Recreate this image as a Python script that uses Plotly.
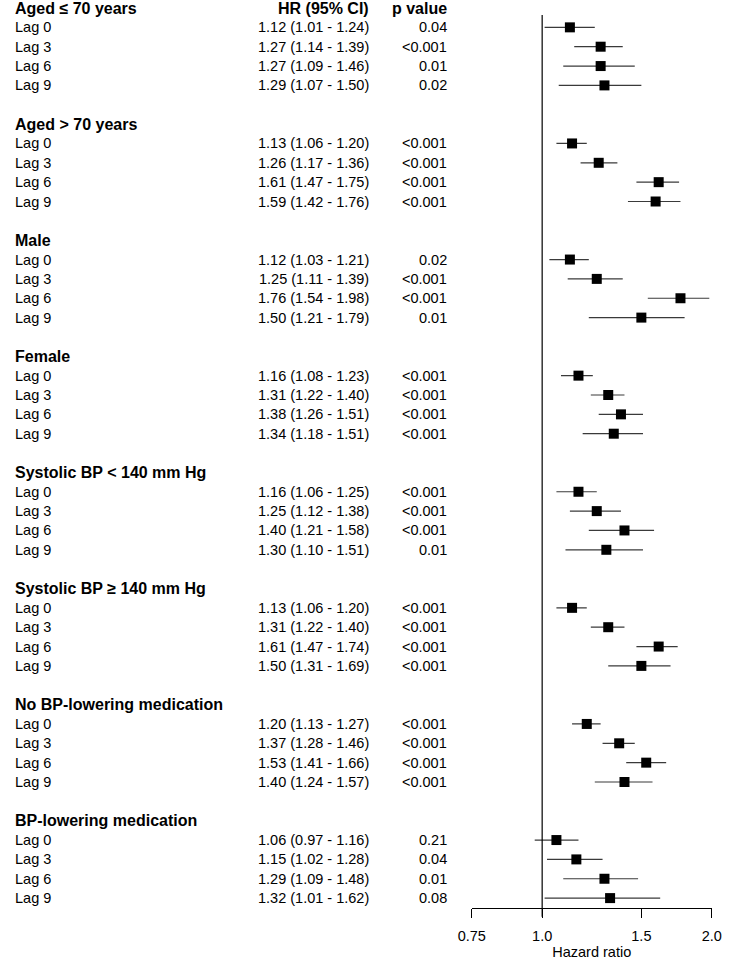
import plotly.graph_objects as go
import math

# ---------------- data ----------------
groups = [
    "Aged ≤ 70 years",
    "Aged > 70 years",
    "Male",
    "Female",
    "Systolic BP < 140 mm Hg",
    "Systolic BP ≥ 140 mm Hg",
    "No BP-lowering medication",
    "BP-lowering medication",
]
lags = ["Lag 0", "Lag 3", "Lag 6", "Lag 9"]

hr = [
    [1.12, 1.27, 1.27, 1.29],
    [1.13, 1.26, 1.61, 1.59],
    [1.12, 1.25, 1.76, 1.50],
    [1.16, 1.31, 1.38, 1.34],
    [1.16, 1.25, 1.40, 1.30],
    [1.13, 1.31, 1.61, 1.50],
    [1.20, 1.37, 1.53, 1.40],
    [1.06, 1.15, 1.29, 1.32],
]
ci_low = [
    [1.01, 1.14, 1.09, 1.07],
    [1.06, 1.17, 1.47, 1.42],
    [1.03, 1.11, 1.54, 1.21],
    [1.08, 1.22, 1.26, 1.18],
    [1.06, 1.12, 1.21, 1.10],
    [1.06, 1.22, 1.47, 1.31],
    [1.13, 1.28, 1.41, 1.24],
    [0.97, 1.02, 1.09, 1.01],
]
ci_high = [
    [1.24, 1.39, 1.46, 1.50],
    [1.20, 1.36, 1.75, 1.76],
    [1.21, 1.39, 1.98, 1.79],
    [1.23, 1.40, 1.51, 1.51],
    [1.25, 1.38, 1.58, 1.51],
    [1.20, 1.40, 1.74, 1.69],
    [1.27, 1.46, 1.66, 1.57],
    [1.16, 1.28, 1.48, 1.62],
]
p_values = [
    ["0.04", "<0.001", "0.01", "0.02"],
    ["<0.001", "<0.001", "<0.001", "<0.001"],
    ["0.02", "<0.001", "<0.001", "0.01"],
    ["<0.001", "<0.001", "<0.001", "<0.001"],
    ["<0.001", "<0.001", "<0.001", "0.01"],
    ["<0.001", "<0.001", "<0.001", "<0.001"],
    ["<0.001", "<0.001", "<0.001", "<0.001"],
    ["0.21", "0.04", "0.01", "0.08"],
]
x_ticks = [0.75, 1.0, 1.5, 2.0]
x_tick_labels = ["0.75", "1.0", "1.5", "2.0"]
col_headers = ["HR (95% CI)", "p value"]
x_title = "Hazard ratio"

# ---------------- layout constants ----------------
W, H = 732, 960
FONT = "Liberation Sans"
FS = 14.5
FS_HEAD = 16
ROW_PX = 19.35
TOP_PX = 8.0          # centre of first row
AXIS_PX = 908.3       # x-axis line
X_LEFT_PX, X_RIGHT_PX = 473.3, 721.4
LABEL_X = 1
HR_X = 367
P_X = 448

def px_to_row(p):
    return (p - TOP_PX) / ROW_PX

fig = go.Figure()

ci_x, ci_y, pt_x, pt_y = [], [], [], []
annotations = []

def ann(text, xpx, row, anchor, bold=False):
    annotations.append(dict(
        text=f"<b>{text}</b>" if bold else text,
        x=xpx / W, xref="paper", xanchor=anchor,
        y=row, yref="y", yanchor="middle",
        showarrow=False, borderpad=0, borderwidth=0,
        font=dict(family=FONT, size=FS_HEAD if bold else FS, color="black"),
    ))

ann(col_headers[0], HR_X, 0, "right", bold=True)
ann(col_headers[1], P_X, 0, "right", bold=True)

row = 0
for g, name in enumerate(groups):
    ann(name, LABEL_X, row, "left", bold=True)
    for k, lag in enumerate(lags):
        r = row + 1 + k
        ann(lag, LABEL_X, r, "left")
        ann(f"{hr[g][k]:.2f} ({ci_low[g][k]:.2f} - {ci_high[g][k]:.2f})", HR_X, r, "right")
        ann(p_values[g][k], P_X, r, "right")
        ci_x += [ci_low[g][k], ci_high[g][k], None]
        ci_y += [r, r, None]
        pt_x.append(hr[g][k])
        pt_y.append(r)
    row += 6

fig.add_trace(go.Scatter(
    x=ci_x, y=ci_y, mode="lines",
    line=dict(color="#3a3a3a", width=1.2),
    hoverinfo="skip", showlegend=False, cliponaxis=False,
))
fig.add_trace(go.Scatter(
    x=pt_x, y=pt_y, mode="markers",
    marker=dict(symbol="square", size=10, color="black", line=dict(width=0)),
    showlegend=False, cliponaxis=False,
))

# reference line at HR = 1
fig.add_shape(type="line", xref="x", yref="paper",
              x0=1, x1=1, y0=1 - 916.7 / H, y1=1 - 15 / H,
              line=dict(color="black", width=1.2))

fig.update_layout(
    width=W, height=H,
    margin=dict(l=0, r=0, t=0, b=0, pad=0),
    paper_bgcolor="white", plot_bgcolor="white",
    font=dict(family=FONT, size=FS, color="black"),
    annotations=annotations,
    xaxis=dict(
        type="log",
        domain=[X_LEFT_PX / W, X_RIGHT_PX / W],
        range=[math.log10(x_ticks[0]), math.log10(x_ticks[-1])],
        tickvals=x_ticks, ticktext=x_tick_labels,
        ticks="outside", ticklen=8.5, tickwidth=1.2, tickcolor="black",
        ticklabelstandoff=6,
        showline=True, linecolor="black", linewidth=1.2,
        showgrid=False, zeroline=False,
        tickfont=dict(family=FONT, size=FS, color="black"),
        title=dict(text=x_title, font=dict(family=FONT, size=FS, color="black"), standoff=4),
        anchor="y",
    ),
    yaxis=dict(
        domain=[1 - AXIS_PX / H, 1],
        range=[px_to_row(AXIS_PX), px_to_row(0)],
        visible=False, showgrid=False, zeroline=False,
    ),
)

fig.write_html("out.html", config={"displayModeBar": False},
               post_script="document.body.style.margin='0';")
